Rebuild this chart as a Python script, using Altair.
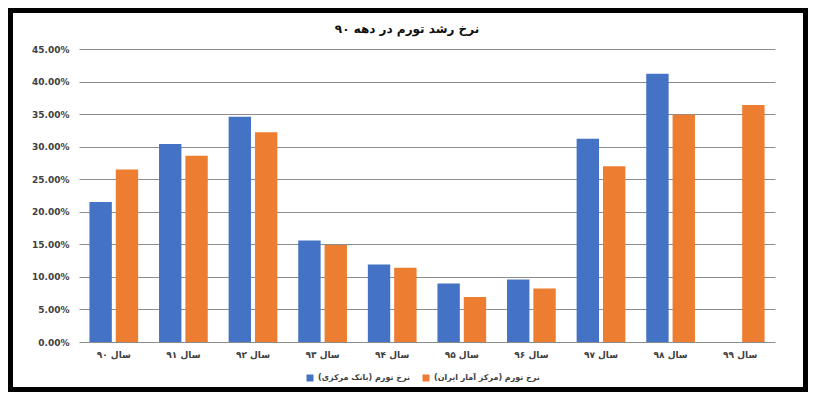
import altair as alt
import pandas as pd

RLM = "\u200f"
years = ["سال ۹۰", "سال ۹۱", "سال ۹۲", "سال ۹۳", "سال ۹۴",
         "سال ۹۵", "سال ۹۶", "سال ۹۷", "سال ۹۸", "سال ۹۹"]
series_cbi = "نرخ تورم (بانک مرکزی)" + RLM
series_sci = "نرخ تورم (مرکز آمار ایران)" + RLM
cbi = [21.5, 30.4, 34.6, 15.6, 11.9, 9.0, 9.6, 31.2, 41.2, None]
sci = [26.5, 28.6, 32.2, 14.9, 11.4, 6.9, 8.2, 27.0, 34.9, 36.4]
title_text = "نرخ رشد تورم در دهه ۹۰"

rows = []
for y, a, b in zip(years, cbi, sci):
    if a is not None:
        rows.append({"year": y, "series": series_cbi, "value": a / 100})
    if b is not None:
        rows.append({"year": y, "series": series_sci, "value": b / 100})
df = pd.DataFrame(rows)

FONT = "DejaVu Sans"
W, H = 696, 293
PL, PT, PR, PB = 71, 41, 800 - 71 - 696, 384 - 41 - 293

bars = alt.Chart(df).mark_bar().encode(
    x=alt.X("year:N", sort=years, title=None,
            scale=alt.Scale(paddingInner=0.3, paddingOuter=0.15),
            axis=alt.Axis(labelAngle=0, ticks=False, domain=False, labelPadding=8,
                          labelFont=FONT, labelFontSize=9, labelFontWeight="bold",
                          labelColor="#404040")),
    xOffset=alt.XOffset("series:N", sort=[series_cbi, series_sci],
                        scale=alt.Scale(paddingInner=0.15, paddingOuter=0)),
    y=alt.Y("value:Q", title=None,
            scale=alt.Scale(domain=[0, 0.45], nice=False),
            axis=alt.Axis(values=[i * 0.05 for i in range(10)], format=".2%",
                          ticks=False, domain=False, labelPadding=10,
                          labelFont=FONT, labelFontSize=9, labelFontWeight="bold",
                          labelColor="#404040", gridColor="#8c8c8c", gridWidth=1)),
    color=alt.Color("series:N",
                    scale=alt.Scale(domain=[series_cbi, series_sci],
                                    range=["#4472C4", "#ED7D31"]),
                    legend=alt.Legend(title=None, orient="none", direction="horizontal",
                                      legendX=227, legendY=325, symbolType="square",
                                      symbolSize=49, symbolStrokeWidth=0,
                                      labelFont=FONT, labelFontSize=8,
                                      labelFontWeight="bold", labelColor="#404040",
                                      columnPadding=12, symbolOffset=0)),
)

one = pd.DataFrame({"t": [title_text]})

title = alt.Chart(one).mark_text(
    font=FONT, fontSize=12, fontWeight="bold", color="#111111",
    align="center", baseline="alphabetic", clip=False
).encode(text="t:N", x=alt.value(W / 2 - 20), y=alt.value(-16))

frame = alt.Chart(one).mark_rect(
    filled=False, stroke="black", strokeWidth=5, clip=False
).encode(
    x=alt.value(-PL + 2.5), x2=alt.value(W + PR - 2.5),
    y=alt.value(-PT + 2.5), y2=alt.value(H + PB - 2.5),
)

chart = alt.layer(bars, title, frame).properties(
    width=W, height=H,
    autosize=alt.AutoSizeParams(type="none"),
    padding={"left": PL, "top": PT, "right": PR, "bottom": PB},
    background="white",
).configure_view(stroke=None)

chart.save("out.html", embed_options={"renderer": "svg", "actions": False})
